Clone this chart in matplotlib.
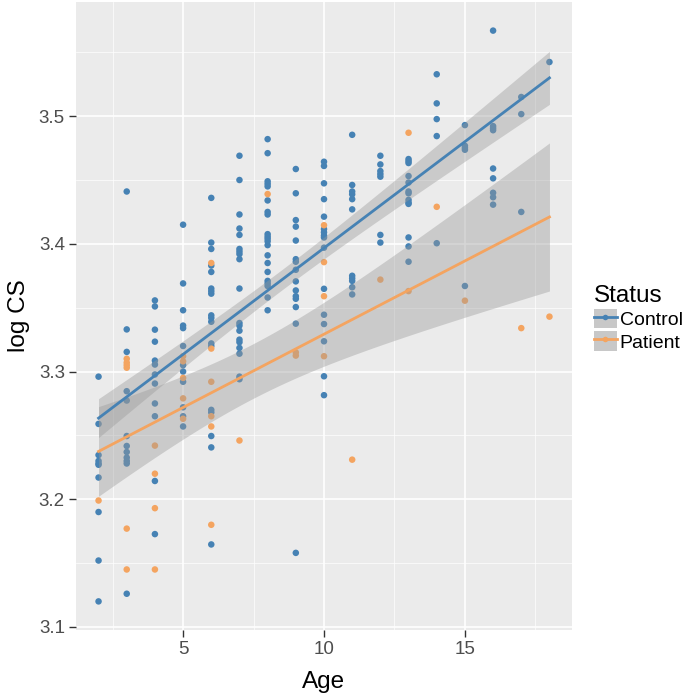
import numpy as np
import matplotlib
matplotlib.use("Agg")
import matplotlib.pyplot as plt
from matplotlib.lines import Line2D
from matplotlib.patches import Patch

plt.rcParams["font.family"] = ["Liberation Sans", "DejaVu Sans"]

# ---- data ----
control = {
    2: [3.296, 3.259, 3.2346, 3.230, 3.228, 3.227, 3.217, 3.190, 3.152, 3.120],
    3: [3.441, 3.333, 3.3154, 3.2846, 3.2773, 3.2495, 3.2417, 3.237, 3.2326, 3.230, 3.228, 3.126],
    4: [3.3557, 3.351, 3.3328, 3.3234, 3.3086, 3.3055, 3.2977, 3.2906, 3.275, 3.265, 3.2143, 3.1727],
    5: [3.415, 3.369, 3.348, 3.336, 3.334, 3.320, 3.305, 3.300, 3.292, 3.272, 3.265, 3.257],
    6: [3.436, 3.401, 3.396, 3.383, 3.378, 3.365, 3.363, 3.361, 3.344, 3.342, 3.339, 3.322,
        3.320, 3.270, 3.268, 3.2495, 3.2406, 3.1646],
    7: [3.469, 3.450, 3.423, 3.412, 3.407, 3.396, 3.394, 3.392, 3.388, 3.365, 3.338, 3.336,
        3.332, 3.325, 3.323, 3.3185, 3.314, 3.296, 3.294],
    8: [3.482, 3.471, 3.449, 3.447, 3.445, 3.434, 3.425, 3.423, 3.4076, 3.4057, 3.404, 3.402,
        3.399, 3.391, 3.385, 3.378, 3.371, 3.369, 3.367, 3.358, 3.348],
    9: [3.4586, 3.4396, 3.4186, 3.4135, 3.4026, 3.388, 3.386, 3.3797, 3.3706, 3.3635, 3.359,
        3.357, 3.3505, 3.3375, 3.158],
    10: [3.4643, 3.461, 3.4474, 3.435, 3.4213, 3.4115, 3.409, 3.4065, 3.405, 3.397, 3.3648,
         3.3445, 3.3372, 3.3237, 3.2963, 3.2815],
    11: [3.4854, 3.4461, 3.441, 3.4388, 3.435, 3.427, 3.375, 3.373, 3.371, 3.366, 3.3604],
    12: [3.469, 3.4622, 3.457, 3.4547, 3.4526, 3.407, 3.401],
    13: [3.4664, 3.4648, 3.4633, 3.4531, 3.448, 3.441, 3.4396, 3.4344, 3.4323, 3.4313, 3.405,
         3.398, 3.386],
    14: [3.5328, 3.510, 3.4977, 3.4844, 3.4005],
    15: [3.493, 3.4768, 3.4752, 3.4737, 3.367],
    16: [3.567, 3.4922, 3.4906, 3.489, 3.459, 3.4513, 3.440, 3.4365, 3.4307],
    17: [3.515, 3.5016, 3.425],
    18: [3.5424],
}
patient = {
    2: [3.199],
    3: [3.310, 3.307, 3.305, 3.303, 3.177, 3.145],
    4: [3.242, 3.220, 3.193, 3.145],
    5: [3.312, 3.308, 3.295, 3.279, 3.263],
    6: [3.385, 3.318, 3.292, 3.265, 3.257, 3.180],
    7: [3.246],
    8: [3.439],
    9: [3.315, 3.3125],
    10: [3.4146, 3.3857, 3.359, 3.312],
    11: [3.231],
    12: [3.372],
    13: [3.487, 3.363],
    14: [3.429],
    15: [3.3555],
    17: [3.334],
    18: [3.343],
}
groups = ["Control", "Patient"]
colors = {"Control": "#4682B4", "Patient": "#F4A460"}
x_ticks = [5, 10, 15]
y_ticks = [3.1, 3.2, 3.3, 3.4, 3.5]


def flatten(d):
    xs, ys = [], []
    for k, v in d.items():
        xs += [k] * len(v)
        ys += v
    return np.array(xs, float), np.array(ys, float)


def t_quant(df, z=1.959964):
    return z + (z**3 + z) / (4 * df) + (5 * z**5 + 16 * z**3 + 3 * z) / (96 * df**2)


fig = plt.figure(figsize=(6.85, 6.96), dpi=100)
ax = fig.add_axes([76 / 685, 66 / 696, (572 - 76) / 685, (694 - 66) / 696])
ax.set_facecolor("#EBEBEB")

data = {"Control": flatten(control), "Patient": flatten(patient)}

for g in groups:
    x, y = data[g]
    ax.scatter(x, y, s=22, color=colors[g], edgecolors="none", zorder=3)

for g in groups:
    x, y = data[g]
    n = len(x)
    b, a = np.polyfit(x, y, 1)
    res = y - (a + b * x)
    s = np.sqrt(np.sum(res**2) / (n - 2))
    xbar = x.mean()
    sxx = np.sum((x - xbar) ** 2)
    xs = np.linspace(x.min(), x.max(), 80)
    fit = a + b * xs
    se = s * np.sqrt(1 / n + (xs - xbar) ** 2 / sxx)
    t = t_quant(n - 2)
    ax.fill_between(xs, fit - t * se, fit + t * se, color="#999999", alpha=0.4,
                    linewidth=0, zorder=4)
    ax.plot(xs, fit, color=colors[g], lw=2, zorder=5)

ax.set_xlim(1.2, 18.8)
ax.set_ylim(3.0976, 3.5894)
ax.set_xticks(x_ticks)
ax.set_yticks(y_ticks)
ax.set_xticks([2.5, 7.5, 12.5, 17.5], minor=True)
ax.set_yticks([3.15, 3.25, 3.35, 3.45, 3.55], minor=True)
ax.grid(which="major", color="white", lw=1.2)
ax.grid(which="minor", color="white", lw=0.5)
ax.set_axisbelow(True)
for sp in ax.spines.values():
    sp.set_visible(False)
ax.tick_params(which="major", length=5, width=1, color="#333333",
               labelsize=13.5, labelcolor="#4D4D4D", pad=3)
ax.tick_params(which="minor", length=0)
ax.set_yticklabels([f"{v:.1f}" for v in y_ticks])
ax.set_xlabel("Age", fontsize=17.5, labelpad=9)
ax.set_ylabel("log CS", fontsize=17.5, labelpad=6)

handles = [(Patch(facecolor="#C8C8C8", edgecolor="none"),
            Line2D([], [], color=colors[g], lw=2, marker="o", markersize=4,
                   markeredgewidth=0)) for g in groups]
leg = fig.legend(handles, groups, title="Status", loc="upper left",
                 bbox_to_anchor=(580 / 685, 1 - 271 / 696), frameon=False,
                 fontsize=14, title_fontsize=17.5, handlelength=1.2,
                 handleheight=1.2, handletextpad=0.15, labelspacing=0.1,
                 borderpad=0.2)
leg._legend_box.align = "left"

fig.savefig("out.png", dpi=100)
